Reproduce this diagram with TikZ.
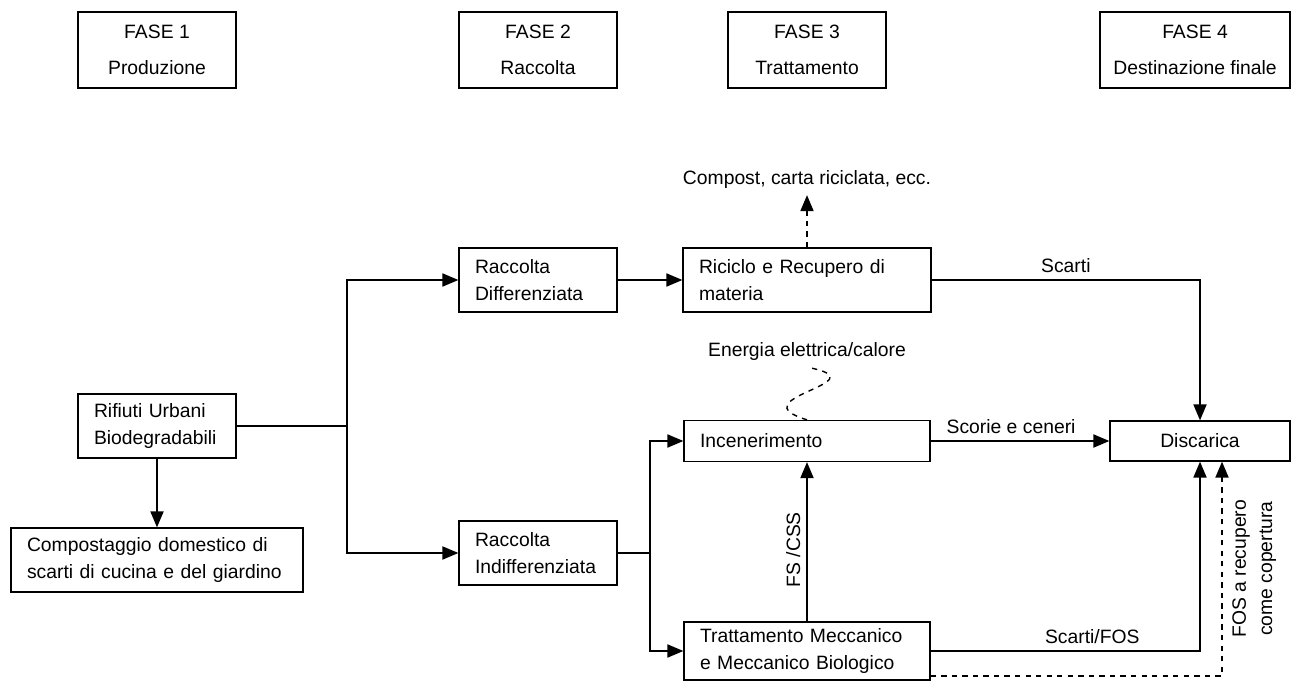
\documentclass[tikz,border=0pt]{standalone}
\usepackage{fontspec}
\setmainfont{Liberation Sans}
\usetikzlibrary{arrows,positioning,calc}

\begin{document}
\begin{tikzpicture}[
            x=0.02cm, y=-0.02cm, >=triangle 45,
            every node/.style={font=\fontsize{11}{15}\selectfont},
            fase/.style={draw, line width=0.8pt, minimum width=3.16cm, minimum height=1.52cm, align=center},
            box/.style={draw, line width=0.8pt, align=left, inner xsep=0.32cm, text width=#1, minimum height=1.28cm},
            flow/.style={->, line width=1.1pt},
            aux/.style={->, line width=1.1pt, dashed}
        ]
            \useasboundingbox (0,0) rectangle (1291,682);
            \node[fase] (f1) at (157,50) {FASE 1\\[0.2cm]Produzione};
            \node[fase] (f2) at (538,50) {FASE 2\\[0.2cm]Raccolta};
            \node[fase] (f3) at (807,50) {FASE 3\\[0.2cm]Trattamento};
            \node[fase, minimum width=3.8cm] (f4) at (1195,50) {FASE 4\\[0.2cm]Destinazione finale};

            \node[box=2.52cm] (rub) at (157,426) {Rifiuti Urbani\\Biodegradabili};
            \node[box=5.2cm] (comp) at (157,560) {Compostaggio domestico di\\scarti di cucina e del giardino};
            \node[box=2.52cm] (rd) at (538,280) {Raccolta\\Differenziata};
            \node[box=2.52cm] (ri) at (538,553) {Raccolta\\Indifferenziata};
            \node[box=4.32cm] (ric) at (807,280) {Riciclo e Recupero di\\materia};
            \node[box=4.28cm, minimum height=0.82cm] (inc) at (807,441) {Incenerimento};
            \node[box=4.28cm, minimum height=1.16cm] (tmb) at (807,651) {Trattamento Meccanico\\e Meccanico Biologico};
            \node[draw, line width=0.8pt, minimum width=3.6cm, minimum height=0.8cm] (disc) at (1200,441) {Discarica};

            \node (prod) at (807,180) {Compost, carta riciclata, ecc.};
            \node (ener) at (807,352) {Energia elettrica/calore};

            \coordinate (j1) at (347,426);
            \coordinate (j2) at (650,553);

            \draw[line width=1.1pt] (rub.east) -- (j1);
            \draw[flow] (j1) |- (rd.west);
            \draw[flow] (j1) |- (ri.west);
            \draw[flow] (rub.south) -- (comp.north);
            \draw[flow] (rd.east) -- (ric.west);
            \draw[line width=1.1pt] (ri.east) -- (j2);
            \draw[flow] (j2) |- (inc.west);
            \draw[flow] (j2) |- (tmb.west);
            \draw[aux] (ric.north) -- (prod.south);
            \draw[dashed, line width=0.8pt] (inc.north) .. controls (735,398) and (885,382) .. (ener.south);
            \draw[flow] (ric.east) -| node[pos=0.25, above] {Scarti} (disc.north);
            \draw[flow] (inc.east) -- node[above, pos=0.45] {Scorie e ceneri} (disc.west);
            \draw[flow] (tmb.north) -- node[pos=0.45, above, sloped] {FS /CSS} (inc.south);
            \draw[flow] (tmb.east) -| node[pos=0.3, above] {Scarti/FOS} (disc.south);
            \draw[aux] ($(tmb.south east)+(0,-5)$) -| node[pos=0.75, below=2pt, sloped, align=center] {FOS a recupero\\come copertura} ($(disc.south)+(22,0)$);
        \end{tikzpicture}
\end{document}
